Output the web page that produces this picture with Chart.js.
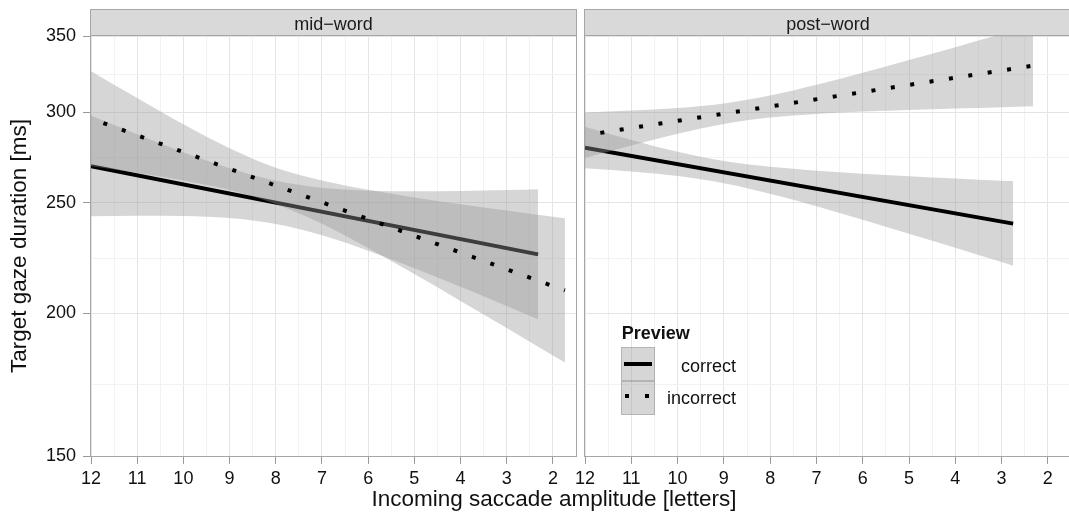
<!DOCTYPE html>
<html>
<head>
<meta charset="utf-8">
<script src="https://cdn.jsdelivr.net/npm/chart.js@4.4.1/dist/chart.umd.min.js"></script>
<style>
  html, body { margin: 0; padding: 0; background: #fff; }
  body { width: 1069px; height: 521px; overflow: hidden; position: relative;
         font-family: "Liberation Sans", Arial, sans-serif; color: #111; }
  canvas { position: absolute; top: 0; }
  #left { left: 0; }
  #right { left: 560px; }
  .txt { position: absolute; white-space: nowrap; line-height: 1; }
  .key { position: absolute; box-sizing: border-box; width: 34px; height: 34px;
         background: rgba(153,153,153,0.4); border: 1px solid rgba(140,140,140,0.45); }
  .mark { position: absolute; background: #000; }
</style>
</head>
<body>
<canvas id="left" width="580" height="521"></canvas>
<canvas id="right" width="515" height="521"></canvas>
<div class="txt" id="xtitle" style="left:354px; width:400px; text-align:center; top:488px; font-size:22.5px;">Incoming saccade amplitude [letters]</div>
<div id="legend"></div>
<script>
// facets, groups and axis ticks
const panels = ['mid\u2212word', 'post\u2212word'];
const series = ['correct', 'incorrect'];
const legendTitle = 'Preview';
const xMajor = [12, 11, 10, 9, 8, 7, 6, 5, 4, 3, 2];
const yMajor = [150, 200, 250, 300, 350];

// mid-word: fitted lines (ms)
const midCorrectX = [12, 2.32];
const midCorrectY = [269.2, 225.3];
const midIncorrectX = [12, 1.74];
const midIncorrectY = [296.3, 209.5];

// mid-word: confidence bands
const midCorrectBandX = [12, 11, 10, 9, 8, 7, 6, 5, 4, 3, 2.32];
const midCorrectLow  = [243.3, 243.6, 243.4, 242.4, 239.5, 234.2, 227.0, 219.1, 211.0, 203.0, 197.6];
const midCorrectHigh = [298.1, 287.0, 276.8, 268.0, 261.4, 257.7, 256.2, 255.9, 256.0, 256.5, 256.9];
const midIncorrectBandX = [12, 11, 10, 9, 8, 7, 6, 5, 4, 3, 2, 1.74];
const midIncorrectLow  = [269.2, 265.5, 261.5, 256.5, 249.4, 239.6, 228.2, 216.5, 205.1, 194.2, 183.7, 181.1];
const midIncorrectHigh = [326.0, 308.9, 292.9, 279.1, 268.3, 261.5, 256.6, 252.7, 249.3, 246.2, 243.1, 242.3];

// post-word: fitted lines (ms)
const postCorrectX = [12, 2.75];
const postCorrectY = [279.4, 239.7];
const postIncorrectX = [12, 2.32];
const postIncorrectY = [286.5, 329.7];

// post-word: confidence bands
const postCorrectBandX = [12, 11, 10, 9, 8, 7, 6, 5, 4, 3, 2.75];
const postCorrectLow  = [268.0, 266.3, 263.9, 260.1, 254.6, 248.3, 241.6, 234.9, 228.3, 221.8, 220.2];
const postCorrectHigh = [291.5, 283.8, 277.1, 272.0, 268.8, 266.7, 265.1, 263.8, 262.6, 261.4, 261.2];
const postIncorrectBandX = [12, 11, 10, 9, 8, 7, 6, 5, 4, 3, 2.32];
const postIncorrectLow  = [273.6, 280.6, 287.3, 293.1, 296.9, 299.1, 300.5, 301.5, 302.4, 303.2, 303.7];
const postIncorrectHigh = [300.0, 301.1, 302.7, 305.5, 310.4, 317.2, 325.0, 333.4, 342.2, 351.4, 357.8];

const FONT = '"Liberation Sans", Arial, sans-serif';
Chart.defaults.font.family = FONT;
const ribbonFill = 'rgba(153,153,153,0.4)';
const none = 'rgba(0,0,0,0)';
const gridMajor = '#e4e4e4';
const gridMinor = '#f2f2f2';
const frame = '#a6a6a6';

// minor breaks sit halfway between major ones (geometric mean on the log axis)
const xTicks = xMajor.flatMap(v => [v, v - 0.5]);
const yTicks = yMajor.flatMap((v, i) => i ? [Math.sqrt(v * yMajor[i - 1]), v] : [v]);

function pts(xs, ys) {
    return xs.map((x, i) => ({x: x, y: ys[i]}));
}

function buildDatasets(d) {
    const base = {pointRadius: 0, pointHoverRadius: 0, clip: 0};
    const smooth = {cubicInterpolationMode: 'monotone'};
    return [
        Object.assign({label: 'correct high', data: pts(d.cbx, d.chi), fill: {target: 1},
            backgroundColor: ribbonFill, borderColor: none, borderWidth: 0, order: 6}, base, smooth),
        Object.assign({label: 'correct low', data: pts(d.cbx, d.clo), fill: false,
            borderColor: none, borderWidth: 0, order: 5}, base, smooth),
        Object.assign({label: series[0], data: pts(d.cx, d.cy), fill: false,
            borderColor: '#000', borderWidth: 4, borderCapStyle: 'butt', order: 4}, base),
        Object.assign({label: 'incorrect high', data: pts(d.ibx, d.ihi), fill: {target: 4},
            backgroundColor: ribbonFill, borderColor: none, borderWidth: 0, order: 3}, base, smooth),
        Object.assign({label: 'incorrect low', data: pts(d.ibx, d.ilo), fill: false,
            borderColor: none, borderWidth: 0, order: 2}, base, smooth),
        Object.assign({label: series[1], data: pts(d.ix, d.iy), fill: false,
            borderColor: '#000', borderWidth: 4, borderCapStyle: 'butt',
            borderDash: [4, 15.6], borderDashOffset: d.dash, order: 1}, base)
    ];
}

const stripPlugin = {
    id: 'strip',
    beforeDraw(chart, args, opts) {
        const a = chart.chartArea, ctx = chart.ctx;
        ctx.save();
        ctx.fillStyle = '#d9d9d9';
        ctx.fillRect(a.left, 9, a.right - a.left, a.top - 9);
        ctx.strokeStyle = frame;
        ctx.lineWidth = 1;
        ctx.strokeRect(a.left - 0.5, 9.5, a.right - a.left + 1, a.top - 9.5);
        ctx.fillStyle = '#1a1a1a';
        ctx.font = '18px ' + FONT;
        ctx.textAlign = 'center';
        ctx.textBaseline = 'alphabetic';
        ctx.fillText(opts.text, (a.left + a.right) / 2, 29.5);
        ctx.restore();
    },
    afterDatasetsDraw(chart) {
        const a = chart.chartArea, ctx = chart.ctx;
        ctx.save();
        ctx.strokeStyle = frame;
        ctx.lineWidth = 1;
        ctx.strokeRect(a.left - 0.5, a.top - 0.5, a.right - a.left + 1, a.bottom - a.top + 1);
        ctx.restore();
    }
};

function isMajor(list, v) {
    return list.some(m => Math.abs(m - v) < 1e-6);
}

function makeChart(id, name, d, showY) {
    return new Chart(document.getElementById(id), {
        type: 'line',
        data: {datasets: buildDatasets(d)},
        options: {
            responsive: false,
            animation: false,
            events: [],
            layout: {padding: {top: 36, right: showY ? 3 : 4, bottom: 0, left: 0}},
            plugins: {
                legend: {display: false},
                tooltip: {enabled: false},
                strip: {text: name}
            },
            scales: {
                x: {
                    type: 'linear', reverse: true, min: 1.5, max: 12,
                    afterBuildTicks: s => { s.ticks = xTicks.map(v => ({value: v})); },
                    afterFit: s => { s.height = 65; },
                    border: {display: false},
                    grid: {
                        color: c => (c.tick && isMajor(xMajor, c.tick.value)) ? gridMajor : gridMinor,
                        tickColor: c => (c.tick && isMajor(xMajor, c.tick.value)) ? '#999' : none,
                        tickLength: 8, lineWidth: 1
                    },
                    ticks: {
                        autoSkip: false, maxRotation: 0, padding: 4, color: '#111',
                        font: {size: 18},
                        callback: v => isMajor(xMajor, v) ? String(v) : ''
                    }
                },
                y: {
                    type: 'logarithmic', min: 150, max: 350,
                    afterBuildTicks: s => { s.ticks = yTicks.map(v => ({value: v})); },
                    afterFit: s => { s.width = showY ? 91 : 25; },
                    border: {display: false},
                    grid: {
                        color: c => (c.tick && isMajor(yMajor, c.tick.value)) ? gridMajor : gridMinor,
                        tickColor: c => (c.tick && isMajor(yMajor, c.tick.value)) ? '#999' : none,
                        drawTicks: showY, tickLength: 8, lineWidth: 1
                    },
                    ticks: {
                        display: showY, autoSkip: false, padding: 7, color: '#111',
                        font: {size: 18},
                        callback: v => isMajor(yMajor, v) ? String(v) : ''
                    },
                    title: {
                        display: showY, text: 'Target gaze duration [ms]', color: '#111',
                        font: {size: 22.5}, padding: {top: 6.5, bottom: 0}
                    }
                }
            }
        },
        plugins: [stripPlugin]
    });
}

makeChart('left', panels[0], {
    cx: midCorrectX, cy: midCorrectY, ix: midIncorrectX, iy: midIncorrectY,
    cbx: midCorrectBandX, clo: midCorrectLow, chi: midCorrectHigh,
    ibx: midIncorrectBandX, ilo: midIncorrectLow, ihi: midIncorrectHigh, dash: 6.4
}, true);

makeChart('right', panels[1], {
    cx: postCorrectX, cy: postCorrectY, ix: postIncorrectX, iy: postIncorrectY,
    cbx: postCorrectBandX, clo: postCorrectLow, chi: postCorrectHigh,
    ibx: postIncorrectBandX, ilo: postIncorrectLow, ihi: postIncorrectHigh, dash: 4.1
}, false);

// legend drawn inside the post-word panel
const legend = document.getElementById('legend');
function add(cls, style, text) {
    const el = document.createElement('div');
    el.className = cls;
    el.setAttribute('style', style);
    if (text) el.textContent = text;
    legend.appendChild(el);
}
add('txt', 'left:621.7px; top:323.8px; font-size:18px; font-weight:bold;', legendTitle);
add('key', 'left:620.7px; top:346.7px;');
add('key', 'left:620.7px; top:380.7px;');
add('mark', 'left:624px; top:362px; width:28px; height:4px;');
add('mark', 'left:624.7px; top:394.3px; width:4px; height:4px;');
add('mark', 'left:644.7px; top:394.3px; width:4px; height:4px;');
add('txt', 'right:333px; top:356.5px; font-size:18px;', series[0]);
add('txt', 'right:333px; top:389px; font-size:18px;', series[1]);
</script>
</body>
</html>
